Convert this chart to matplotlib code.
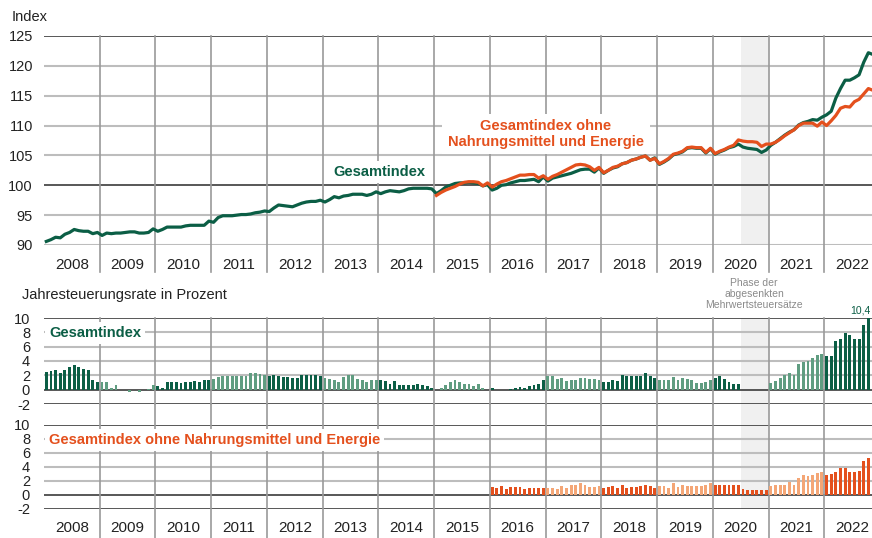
import numpy as np
import matplotlib.pyplot as plt

plt.rcParams['font.family'] = ['Liberation Sans', 'DejaVu Sans']
plt.rcParams['axes.unicode_minus'] = False

# Colours
GREEN = '#0b5e45'
GREEN_LIGHT = '#609d81'
ORANGE = '#e4501d'
ORANGE_LIGHT = '#f4a676'
GRID = '#bdbdbd'
VLINE = '#9a9a9a'
DARK = '#2a2a2a'
SHADE = '#f0f0f0'

# Data: monthly, Gesamtindex from Jan 2008, ohne Nahrungsmittel/Energie from Jan 2015 (index) / Jan 2016 (rate)
index_total = [
    90.6, 90.9, 91.3, 91.2, 91.8, 92.1, 92.6, 92.4, 92.3, 92.3, 91.9, 92.1,   # 2008
    91.6, 92.0, 91.9, 92.0, 92.0, 92.1, 92.2, 92.2, 92.0, 92.0, 92.1, 92.7,   # 2009
    92.3, 92.6, 93.0, 93.0, 93.0, 93.0, 93.2, 93.3, 93.3, 93.3, 93.3, 94.0,   # 2010
    93.8, 94.6, 94.9, 94.9, 94.9, 95.0, 95.1, 95.1, 95.2, 95.4, 95.5, 95.7,   # 2011
    95.6, 96.2, 96.7, 96.6, 96.5, 96.4, 96.7, 97.0, 97.2, 97.3, 97.3, 97.5,   # 2012
    97.2, 97.6, 98.1, 97.9, 98.2, 98.3, 98.5, 98.5, 98.5, 98.3, 98.5, 98.9,   # 2013
    98.6, 98.9, 99.1, 99.0, 98.9, 99.1, 99.4, 99.5, 99.5, 99.5, 99.5, 99.4,   # 2014
    98.6, 99.1, 99.7, 100.0, 100.3, 100.4, 100.4, 100.5, 100.4, 100.3, 99.9, 100.1,  # 2015
    99.2, 99.5, 100.0, 100.1, 100.4, 100.6, 100.8, 100.8, 100.9, 101.0, 100.6, 101.4,  # 2016
    100.7, 101.2, 101.4, 101.6, 101.8, 102.0, 102.3, 102.6, 102.7, 102.7, 102.2, 102.9,  # 2017
    102.0, 102.5, 102.9, 103.1, 103.6, 103.8, 104.2, 104.4, 104.7, 104.9, 104.2, 104.6,  # 2018
    103.5, 103.9, 104.4, 105.1, 105.3, 105.6, 106.2, 106.3, 106.2, 106.2, 105.4, 106.1,  # 2019
    105.2, 105.6, 105.9, 106.3, 106.5, 106.9, 106.4, 106.2, 106.1, 106.0, 105.5, 105.9,  # 2020
    106.7, 107.2, 107.8, 108.4, 108.9, 109.3, 110.1, 110.5, 110.7, 111.0, 110.9, 111.4,  # 2021
    111.8, 112.4, 114.6, 116.2, 117.6, 117.6, 118.0, 118.5, 120.6, 122.2, 121.9,         # 2022
]
index_core = [
    98.3, 98.8, 99.2, 99.5, 99.8, 100.2, 100.5, 100.6, 100.6, 100.5, 99.9, 100.4,   # 2015
    99.7, 100.2, 100.6, 100.8, 101.1, 101.4, 101.7, 101.7, 101.8, 101.8, 101.2, 101.6,  # 2016
    101.0, 101.5, 101.8, 102.2, 102.6, 103.0, 103.4, 103.5, 103.4, 103.1, 102.5, 103.0,  # 2017
    102.1, 102.5, 103.0, 103.2, 103.6, 103.8, 104.2, 104.4, 104.7, 104.9, 104.2, 104.5,  # 2018
    103.6, 104.0, 104.5, 105.2, 105.4, 105.7, 106.3, 106.4, 106.3, 106.3, 105.5, 106.2,  # 2019
    105.3, 105.7, 106.0, 106.4, 106.7, 107.6, 107.4, 107.3, 107.3, 107.2, 106.5, 106.9,  # 2020
    106.9, 107.2, 107.7, 108.3, 108.8, 109.3, 110.0, 110.4, 110.4, 110.4, 109.9, 110.6,  # 2021
    110.0, 110.8, 111.7, 112.9, 113.2, 113.1, 114.0, 114.4, 115.3, 116.2, 115.9,         # 2022
]
rate_total = [
    2.5, 2.6, 2.8, 2.3, 2.8, 3.1, 3.4, 3.1, 2.9, 2.7, 1.3, 1.1,      # 2008
    1.1, 1.1, 0.25, 0.6, 0.0, 0.0, -0.3, 0.0, -0.3, 0.0, 0.05, 0.6,  # 2009
    0.5, 0.2, 1.0, 1.0, 1.0, 0.9, 1.05, 1.1, 1.2, 1.1, 1.4, 1.3,     # 2010
    1.55, 1.75, 1.95, 1.95, 1.85, 1.85, 1.85, 1.95, 2.3, 2.3, 2.2, 2.1,  # 2011
    1.95, 2.0, 1.9, 1.75, 1.7, 1.6, 1.6, 2.1, 2.0, 2.0, 2.0, 1.9,    # 2012
    1.6, 1.5, 1.4, 1.1, 1.7, 2.0, 2.0, 1.55, 1.4, 1.0, 1.35, 1.35,   # 2013
    1.35, 1.15, 0.8, 1.25, 0.7, 0.7, 0.7, 0.7, 0.8, 0.7, 0.45, 0.3,  # 2014
    0.0, 0.2, 0.6, 1.1, 1.4, 1.05, 0.85, 0.8, 0.55, 0.8, 0.25, 0.0,  # 2015
    0.2, 0.0, 0.0, 0.0, 0.05, 0.25, 0.35, 0.3, 0.5, 0.7, 0.75, 1.4,  # 2016
    1.9, 1.95, 1.45, 1.65, 1.15, 1.35, 1.4, 1.6, 1.6, 1.45, 1.55, 1.4,  # 2017
    1.1, 1.0, 1.3, 1.15, 2.1, 1.85, 1.95, 1.85, 1.95, 2.3, 1.95, 1.6,   # 2018
    1.35, 1.3, 1.3, 1.75, 1.3, 1.6, 1.5, 1.3, 0.9, 0.9, 1.0, 1.3,      # 2019
    1.6, 1.85, 1.45, 1.0, 0.85, 0.85, -0.1, 0.0, -0.1, -0.1, -0.1, -0.1,  # 2020
    0.9, 1.25, 1.6, 2.1, 2.3, 2.0, 3.6, 3.9, 4.0, 4.35, 4.85, 5.0,     # 2021
    4.7, 4.75, 6.85, 7.0, 7.9, 7.6, 7.0, 7.1, 9.05, 10.4, 10.0,        # 2022
]
rate_core = [
    1.15, 1.0, 1.25, 0.85, 1.15, 1.15, 1.15, 0.85, 1.0, 1.0, 1.0, 1.0,   # 2016
    1.0, 1.0, 0.85, 1.35, 1.0, 1.45, 1.5, 1.7, 1.5, 1.2, 1.2, 1.25,     # 2017
    1.0, 1.15, 1.35, 0.95, 1.45, 1.0, 1.2, 1.2, 1.25, 1.5, 1.25, 1.0,   # 2018
    1.25, 1.25, 0.95, 1.65, 1.15, 1.5, 1.35, 1.35, 1.25, 1.25, 1.5, 1.7,  # 2019
    1.5, 1.5, 1.5, 1.4, 1.4, 1.5, 0.9, 0.75, 0.75, 0.75, 0.75, 0.7,     # 2020
    1.35, 1.5, 1.4, 1.4, 1.85, 1.4, 2.45, 2.8, 2.65, 2.8, 3.2, 3.3,     # 2021
    2.9, 2.95, 3.25, 3.8, 3.8, 3.35, 3.25, 3.5, 4.8, 5.3, 5.3,          # 2022
]
years = list(range(2008, 2023))
vat_phase = (2020.5, 2021.0)


def month_pos(start_year, n):
    return start_year + (np.arange(n) + 0.5) / 12


t_total = month_pos(2008, len(index_total))
t_core = month_pos(2015, len(index_core))
tr_total = month_pos(2008, len(rate_total))
tr_core = month_pos(2016, len(rate_core))

W, H = 872, 538
fig = plt.figure(figsize=(W / 100, H / 100), dpi=100, facecolor='white')


def rect(x0, y_top, x1, y_bot):
    return [x0 / W, 1 - y_bot / H, (x1 - x0) / W, (y_bot - y_top) / H]


XL = (2008, 2022.857)
ax_top = fig.add_axes(rect(44, 36, 872, 245))
ax_up = fig.add_axes(rect(44, 318, 872, 404))
ax_lo = fig.add_axes(rect(44, 425, 872, 509))


def style(ax, yticks, dark, vmin, vmax, label_y=None):
    ax.set_xlim(*XL)
    ax.set_ylim(yticks[0], yticks[-1])
    ax.patch.set_alpha(0)
    for s in ax.spines.values():
        s.set_visible(False)
    ax.set_xticks([])
    ax.set_yticks(yticks)
    ax.set_yticklabels([str(v) for v in yticks], fontsize=10.5)
    ax.tick_params(axis='y', length=0, pad=8, colors='#222222')
    for v in yticks:
        ax.axhline(v, color=DARK if v in dark else GRID, lw=1.1 if v in dark else 1.5, zorder=1)
    for yr in years[1:]:
        ax.axvline(yr, ymin=vmin, ymax=vmax, color=VLINE, lw=1.2, clip_on=False, zorder=1)
    if label_y is not None:
        for yr in years:
            ax.text(yr + 0.5, label_y, str(yr), transform=ax.get_xaxis_transform(),
                    ha='center', va='center', fontsize=11, color='#222222')


# Top: index levels
style(ax_top, [90, 95, 100, 105, 110, 115, 120, 125], (100, 125), -27 / 209, 1, -20 / 209)
ax_top.axvspan(*vat_phase, color=SHADE, lw=0, zorder=0)
ax_top.plot(t_total, index_total, color=GREEN, lw=2.3, zorder=4, solid_joinstyle='round')
ax_top.plot(t_core, index_core, color=ORANGE, lw=2.3, zorder=5, solid_joinstyle='round')

# Bottom: yearly rates
rate_ticks = [-2, 0, 2, 4, 6, 8, 10]
style(ax_up, rate_ticks, (-2, 0, 10), 0, 1)
style(ax_lo, rate_ticks, (-2, 0, 10), -29 / 84, 1 + 21 / 84, -19 / 84)
ax_up.tick_params(axis='y', pad=10)
ax_lo.tick_params(axis='y', pad=10)

ax_up.axvspan(*vat_phase, color=SHADE, lw=0, zorder=0)
span = ax_lo.axvspan(*vat_phase, ymin=0, ymax=1 + 21 / 84, color=SHADE, lw=0, zorder=0)
span.set_clip_on(False)

yr_total = np.floor(tr_total).astype(int)
yr_core = np.floor(tr_core).astype(int)
ax_up.bar(tr_total, rate_total, width=0.62 / 12, zorder=3,
          color=[GREEN if y % 2 == 0 else GREEN_LIGHT for y in yr_total])
ax_lo.bar(tr_core, rate_core, width=0.62 / 12, zorder=3,
          color=[ORANGE if y % 2 == 0 else ORANGE_LIGHT for y in yr_core])

# peak label, kept inside the figure's right edge
imax = int(np.argmax(rate_total))
ax_up.text(tr_total[imax] + 0.04, 10.35, f'{rate_total[imax]:.1f}'.replace('.', ','),
           ha='right', va='bottom', fontsize=7.5, color=GREEN, clip_on=False)

# Titles and labels
fig.text(12 / W, 1 - 17 / H, 'Index', fontsize=10.5, va='center', color='#222222')
fig.text(22 / W, 1 - 295 / H, 'Jahresteuerungsrate in Prozent', fontsize=10.5,
         va='center', color='#222222')

# series labels in the top chart sit below the lines, above the grid
ax_top.text(333 / W, 1 - 172 / H, 'Gesamtindex', transform=fig.transFigure, fontsize=10.5,
            fontweight='bold', color=GREEN, va='center', zorder=3,
            bbox=dict(facecolor='white', edgecolor='none', pad=3))
ax_top.text(546 / W, 1 - 134 / H, 'Gesamtindex ohne\nNahrungsmittel und Energie',
            transform=fig.transFigure, fontsize=10.5, fontweight='bold', color=ORANGE,
            ha='center', va='center', linespacing=1.15, zorder=3,
            bbox=dict(facecolor='white', edgecolor='none', pad=4))

box = dict(facecolor='white', edgecolor='none', pad=3)
fig.text(49 / W, 1 - 333 / H, 'Gesamtindex', fontsize=10.5, fontweight='bold',
         color=GREEN, va='center', bbox=box)
fig.text(49 / W, 1 - 440 / H, 'Gesamtindex ohne Nahrungsmittel und Energie', fontsize=10.5,
         fontweight='bold', color=ORANGE, va='center', bbox=box)
fig.text(754 / W, 1 - 294 / H, 'Phase der\nabgesenkten\nMehrwertsteuersätze', fontsize=7.5,
         color='#8a8a8a', ha='center', va='center', linespacing=1.1)

fig.savefig('out.png', dpi=100, facecolor='white')
